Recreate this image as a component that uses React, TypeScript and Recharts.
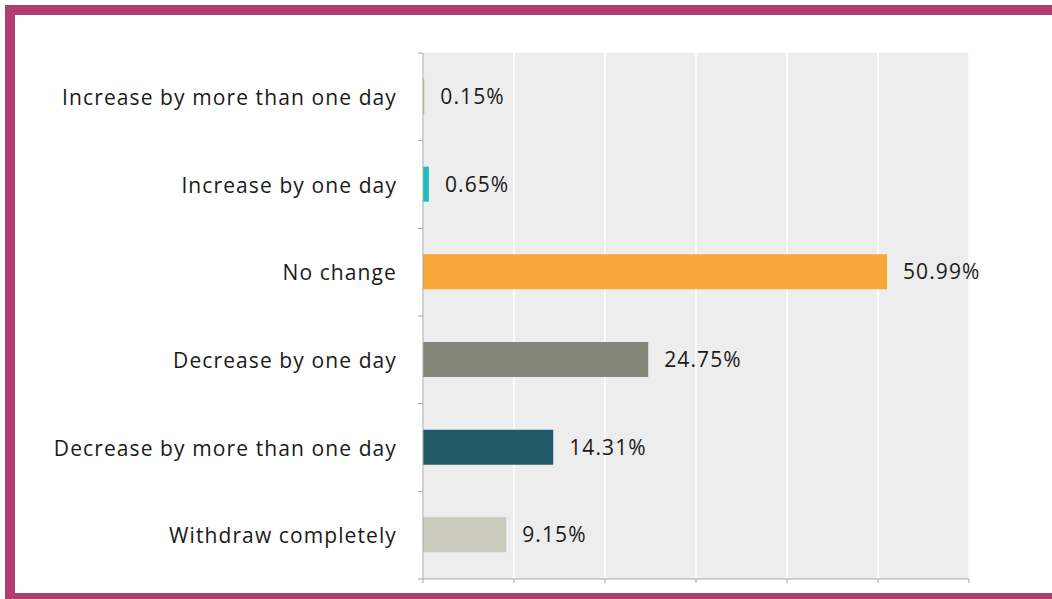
import React from "react";
import { BarChart, Bar, XAxis, YAxis, CartesianGrid, Cell, LabelList } from "recharts";

const categories = [
  "Increase by more than one day",
  "Increase by one day",
  "No change",
  "Decrease by one day",
  "Decrease by more than one day",
  "Withdraw completely",
];
const values = [0.15, 0.65, 50.99, 24.75, 14.31, 9.15];
const xTicks = [0, 10, 20, 30, 40, 50, 60];

const barColors = ["#C3C28B", "#1FBEC0", "#F8A839", "#85867A", "#215A67", "#CACBBD"];

const data = categories.map((name, i) => ({ name, value: values[i] }));

const FONT = "'Open Sans', sans-serif";
const AXIS = "#A6A6A6";
const FS = 21;
const LS = 1.1;

const CatTick = (props: any) => {
  const { y, payload, index } = props;
  const off = payload && typeof payload.offset === "number" ? payload.offset : 43.8;
  return (
    <g>
      <text
        x={397}
        y={y}
        textAnchor="end"
        dominantBaseline="central"
        fontFamily={FONT}
        fontSize={FS}
        letterSpacing={LS}
        fill="#1a1a1a"
      >
        {payload.value}
      </text>
      <line x1={418} x2={423} y1={y - off} y2={y - off} stroke={AXIS} strokeWidth={1} />
      {index === categories.length - 1 ? (
        <line x1={418} x2={423} y1={y + off} y2={y + off} stroke={AXIS} strokeWidth={1} />
      ) : null}
    </g>
  );
};

const EmptyTick = () => <g />;

export default function App() {
  return (
    <div style={{ position: "absolute", left: 0, top: 0, width: 1052, height: 599, overflow: "hidden", background: "#fff" }}>
      <div
        style={{
          position: "absolute",
          left: 5,
          top: 5,
          width: 1080,
          height: 578,
          border: "10px solid #B03D6B",
          boxSizing: "content-box",
        }}
      />
      <div style={{ position: "absolute", left: 0, top: 0 }}>
        <BarChart
          width={1052}
          height={599}
          data={data}
          layout="vertical"
          margin={{ top: 53, right: 83, bottom: 0, left: 0 }}
          barCategoryGap="60%"
        >
          <CartesianGrid horizontal={false} vertical={true} stroke="#FFFFFF" strokeWidth={1.5} fill="#EDEDED" />
          <XAxis
            type="number"
            domain={[0, 60]}
            ticks={xTicks}
            tick={EmptyTick}
            tickLine={{ stroke: AXIS }}
            tickSize={4}
            axisLine={{ stroke: AXIS }}
            height={20}
            interval={0}
          />
          <YAxis
            type="category"
            dataKey="name"
            width={423}
            tick={CatTick}
            tickLine={false}
            axisLine={{ stroke: AXIS }}
            interval={0}
          />
          <Bar dataKey="value" barSize={35} isAnimationActive={false}>
            {data.map((d, i) => (
              <Cell key={d.name} fill={barColors[i]} />
            ))}
            <LabelList
              dataKey="value"
              position="right"
              offset={16}
              formatter={(v: any) => `${Number(v).toFixed(2)}%`}
              style={{ fontFamily: FONT, fontSize: FS, letterSpacing: LS, fill: "#1a1a1a" }}
            />
          </Bar>
        </BarChart>
      </div>
    </div>
  );
}
